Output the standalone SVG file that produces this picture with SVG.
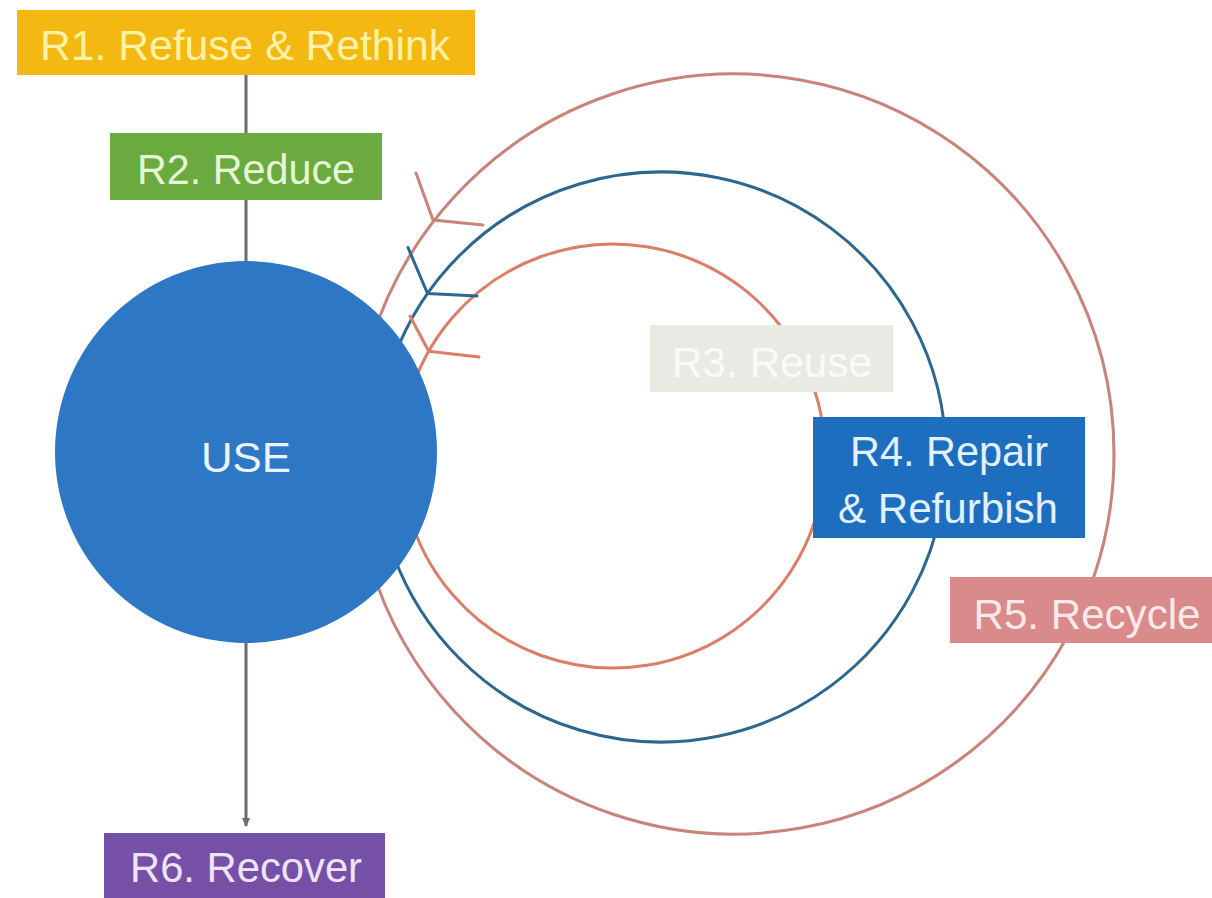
<svg xmlns="http://www.w3.org/2000/svg" width="1212" height="898" viewBox="0 0 1212 898">
<style>
  .lbl { font-family: "Liberation Sans", Arial, sans-serif; font-size: 42px; text-anchor: middle; }
  .arc { fill: none; stroke-width: 3; stroke-linecap: round; stroke-linejoin: round; }
  .inner { stroke: #DB7E68; }
  .mid { stroke: #2D6790; }
  .outer { stroke: #C8837B; }
  .stem { stroke: #6D6876; stroke-width: 3; fill: none; }
</style>
<defs>
  <marker id="tip" markerWidth="10" markerHeight="10" refX="8" refY="5" orient="auto" markerUnits="userSpaceOnUse">
    <path d="M0,1 L9,5 L0,9 Z" fill="#6D6876"/>
  </marker>
</defs>
<rect width="1212" height="898" fill="#FFFFFF"/>
<g id="connectors">
  <line class="stem" x1="246" y1="75" x2="246" y2="826" marker-end="url(#tip)"/>
  <path class="arc inner" d="M 408.2 510.9 A 212 212 0 1 0 408.2 401.1"/>
  <path class="arc mid" d="M 393.2 554.5 A 285 285 0 1 0 393.2 359.5"/>
  <path class="arc outer" d="M 370.6 565.1 A 380 380 0 1 0 370.6 342.9"/>
  <path class="arc outer" d="M 416 173 L 433 220 L 483 225"/>
  <path class="arc mid" d="M 408 247.5 L 427.5 293.5 L 477 296"/>
  <path class="arc inner" d="M 410 316 L 428.7 351.3 L 479 357"/>
</g>
<g id="use">
  <circle cx="246" cy="452" r="191" fill="#2D77C5"/>
  <text class="lbl" x="246" y="472" fill="#EAF3FF" textLength="90" lengthAdjust="spacingAndGlyphs">USE</text>
</g>
<g id="r1">
  <rect x="17" y="10" width="458" height="65" fill="#F3B812"/>
  <text class="lbl" x="245" y="60" fill="#FFF1A6" textLength="410" lengthAdjust="spacingAndGlyphs">R1. Refuse &amp; Rethink</text>
</g>
<g id="r2">
  <rect x="110" y="133" width="272" height="67" fill="#6AAA3F"/>
  <text class="lbl" x="246" y="184" fill="#E6F7D6" textLength="218" lengthAdjust="spacingAndGlyphs">R2. Reduce</text>
</g>
<g id="r3">
  <rect x="650" y="325" width="243" height="67" fill="#EAEAE5"/>
  <text class="lbl" x="772" y="377" fill="#FAFAF7" textLength="200" lengthAdjust="spacingAndGlyphs">R3. Reuse</text>
</g>
<g id="r4">
  <rect x="813" y="417" width="272" height="121" fill="#1E6EBF"/>
  <text class="lbl" x="949" y="466" fill="#E2F1FF" textLength="198" lengthAdjust="spacingAndGlyphs">R4. Repair</text>
  <text class="lbl" x="948" y="523" fill="#E2F1FF" textLength="220" lengthAdjust="spacingAndGlyphs">&amp; Refurbish</text>
</g>
<g id="r5">
  <rect x="950" y="577" width="262" height="66" fill="#D98A8A"/>
  <text class="lbl" x="1087" y="629" fill="#FBE9E9" textLength="227" lengthAdjust="spacingAndGlyphs">R5. Recycle</text>
</g>
<g id="r6">
  <rect x="104" y="833" width="281" height="65" fill="#7650A6"/>
  <text class="lbl" x="246" y="882" fill="#EDE3FA" textLength="232" lengthAdjust="spacingAndGlyphs">R6. Recover</text>
</g>
</svg>
